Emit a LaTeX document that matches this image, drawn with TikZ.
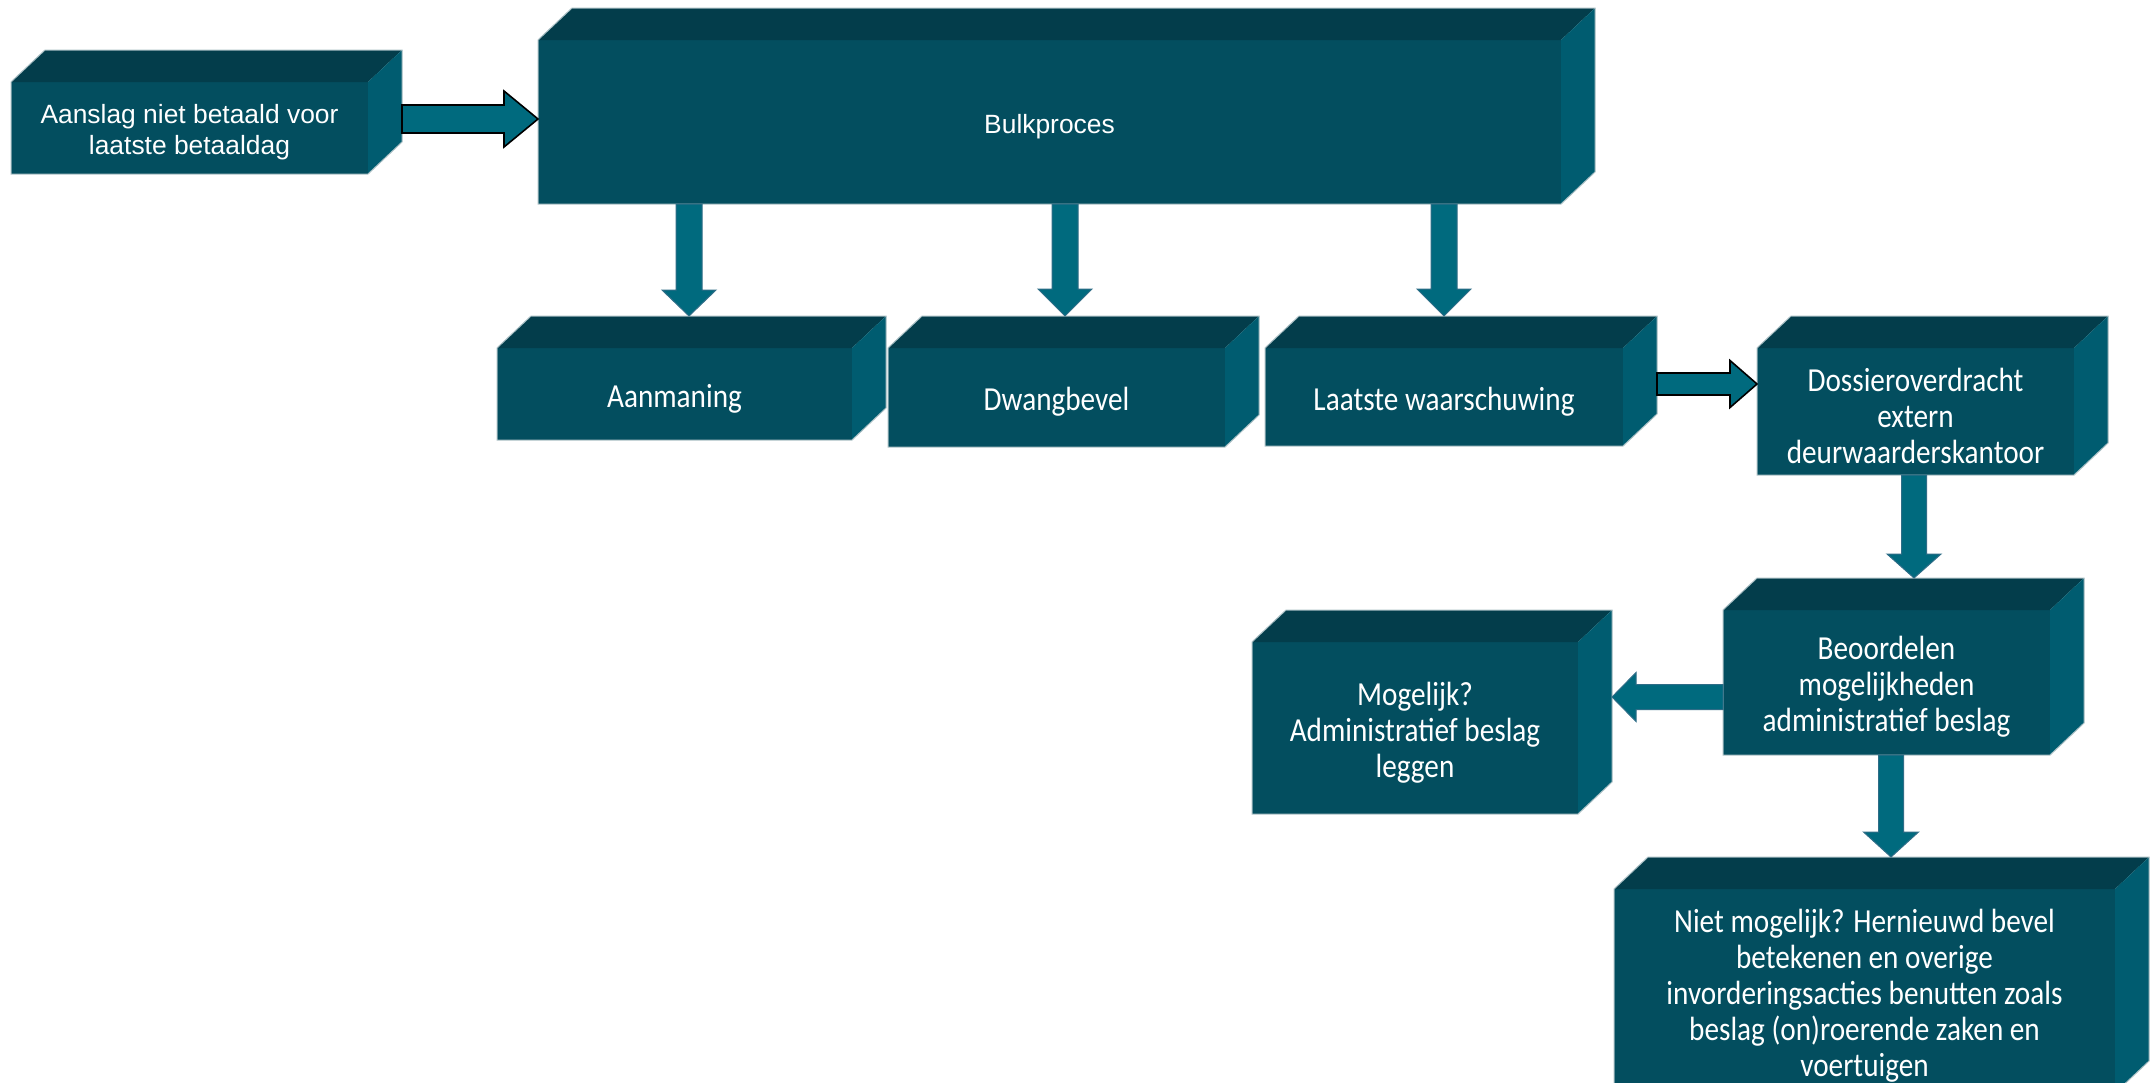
\documentclass[tikz,border=0pt]{standalone}
\usepackage{fontspec}
\setmainfont{Liberation Sans}
\newfontfamily\condf[FakeStretch=0.87]{Carlito}
\usetikzlibrary{calc}
\definecolor{frontc}{HTML}{034E5F}
\definecolor{topc}{HTML}{033D4B}
\definecolor{sidec}{HTML}{005C70}
\definecolor{arrc}{HTML}{006A7E}
\definecolor{arredge}{HTML}{2F6D87}
\definecolor{boxedge}{HTML}{A8BEC3}
\newcommand\dx{34}
\newcommand\dy{32}
\tikzset{
  frontface/.style={fill=frontc, inner sep=0pt, outer sep=0pt},
  boxtext/.style={text=white, align=center, inner sep=0pt},
  bigtext/.style={font=\fontsize{13.2}{15.5}\selectfont},
  condtext/.style={font=\condf\fontsize{16.8}{18}\selectfont},
  downarrow/.style={fill=arrc, draw=arredge, line width=0.5pt},
  outlinedarrow/.style={fill=arrc, draw=black, line width=0.8pt},
}
% name, x1, y1, x2, y2, text style, text
\newcommand\cubebox[7]{%
  \node[frontface, minimum width={(#4-#2)*0.5pt}, minimum height={(#5-#3)*0.5pt}] (#1) at ({(#2+#4)/2},{(#3+#5)/2}) {};
  \fill[topc] (#1.north west) -- ++(\dx*0.5pt,\dy*0.5pt) -- ([shift={(\dx*0.5pt,\dy*0.5pt)}]#1.north east) -- (#1.north east) -- cycle;
  \fill[sidec] (#1.north east) -- ++(\dx*0.5pt,\dy*0.5pt) -- ([shift={(\dx*0.5pt,\dy*0.5pt)}]#1.south east) -- (#1.south east) -- cycle;
  \draw[boxedge, line width=0.5pt, line join=miter] (#1.south west) -- (#1.north west) -- ++(\dx*0.5pt,\dy*0.5pt) -- ([shift={(\dx*0.5pt,\dy*0.5pt)}]#1.north east) -- ([shift={(\dx*0.5pt,\dy*0.5pt)}]#1.south east) -- (#1.south east) -- cycle;
  \node[boxtext, #6] (#1-text) at ([yshift=-2.2pt]#1.center) {#7};
}
% from, to, x centre, shaft half, head half, head length
\newcommand\varrow[6]{%
  \coordinate (tmpx) at (#3,0);
  \coordinate (arrS) at (tmpx |- #1.south);
  \coordinate (arrT0) at (tmpx |- #2.north);
  \coordinate (arrT) at ([yshift=\dy*0.5pt]arrT0);
  \filldraw[downarrow] ([xshift=-#4*0.5pt]arrS) -- ([xshift=#4*0.5pt]arrS) -- ([shift={(#4*0.5pt,#6*0.5pt)}]arrT) -- ([shift={(#5*0.5pt,#6*0.5pt)}]arrT) -- (arrT) -- ([shift={(-#5*0.5pt,#6*0.5pt)}]arrT) -- ([shift={(-#4*0.5pt,#6*0.5pt)}]arrT) -- cycle;
}
% from, to, y centre, shaft half, head half, head length, style  (rightwards)
\newcommand\harrow[7]{%
  \coordinate (tmpy) at (0,#3);
  \coordinate (arrS0) at (tmpy -| #1.east);
  \coordinate (arrS) at ([xshift=\dx*0.5pt]arrS0);
  \coordinate (arrT) at (tmpy -| #2.west);
  \filldraw[#7] ([yshift=#4*0.5pt]arrS) -- ([shift={(-#6*0.5pt,#4*0.5pt)}]arrT) -- ([shift={(-#6*0.5pt,#5*0.5pt)}]arrT) -- (arrT) -- ([shift={(-#6*0.5pt,-#5*0.5pt)}]arrT) -- ([shift={(-#6*0.5pt,-#4*0.5pt)}]arrT) -- ([yshift=-#4*0.5pt]arrS) -- cycle;
}
% leftwards: from (west side), to (right face)
\newcommand\larrow[7]{%
  \coordinate (tmpy) at (0,#3);
  \coordinate (arrS) at (tmpy -| #1.west);
  \coordinate (arrT0) at (tmpy -| #2.east);
  \coordinate (arrT) at ([xshift=\dx*0.5pt]arrT0);
  \filldraw[#7] ([yshift=#4*0.5pt]arrS) -- ([shift={(#6*0.5pt,#4*0.5pt)}]arrT) -- ([shift={(#6*0.5pt,#5*0.5pt)}]arrT) -- (arrT) -- ([shift={(#6*0.5pt,-#5*0.5pt)}]arrT) -- ([shift={(#6*0.5pt,-#4*0.5pt)}]arrT) -- ([yshift=-#4*0.5pt]arrS) -- cycle;
}
\begin{document}
\begin{tikzpicture}[x=0.5pt, y=-0.5pt]
\path[use as bounding box, fill=white] (0,0) rectangle (2151,1082);
\clip (0,0) rectangle (2151,1082);

\cubebox{aanslag}{11}{82}{368}{174}{bigtext}{Aanslag niet betaald voor\\laatste betaaldag}
\cubebox{bulk}{538}{40}{1561}{204}{bigtext}{Bulkproces}
\cubebox{aanm}{497}{348}{852}{440}{condtext}{Aanmaning}
\cubebox{dwang}{888}{348}{1225}{447}{condtext}{Dwangbevel}
\cubebox{laatste}{1265}{348}{1623}{446}{condtext}{Laatste waarschuwing}
\cubebox{dossier}{1757}{348}{2074}{475}{condtext}{Dossieroverdracht\\extern\\deurwaarderskantoor}
\cubebox{beoord}{1723}{610}{2050}{755}{condtext}{Beoordelen\\mogelijkheden\\administratief beslag}
\cubebox{mogelijk}{1252}{642}{1578}{814}{condtext}{Mogelijk?\\Administratief beslag\\leggen}
\cubebox{niet}{1614}{889}{2115}{1093}{condtext}{Niet mogelijk? Hernieuwd bevel\\betekenen en overige\\invorderingsacties benutten zoals\\beslag (on)roerende zaken en\\voertuigen}

\harrow{aanslag}{bulk}{119}{14}{28}{34}{outlinedarrow}
\harrow{laatste}{dossier}{384}{11}{23.5}{27}{outlinedarrow}
\larrow{beoord}{mogelijk}{697}{12.5}{24.5}{24}{downarrow}
\varrow{bulk}{aanm}{689}{13}{27}{26}
\varrow{bulk}{dwang}{1065}{13}{27}{27}
\varrow{bulk}{laatste}{1444}{13}{27}{27}
\varrow{dossier}{beoord}{1914}{12.5}{27}{24}
\varrow{beoord}{niet}{1891}{12.5}{27.5}{25}
\end{tikzpicture}
\end{document}
